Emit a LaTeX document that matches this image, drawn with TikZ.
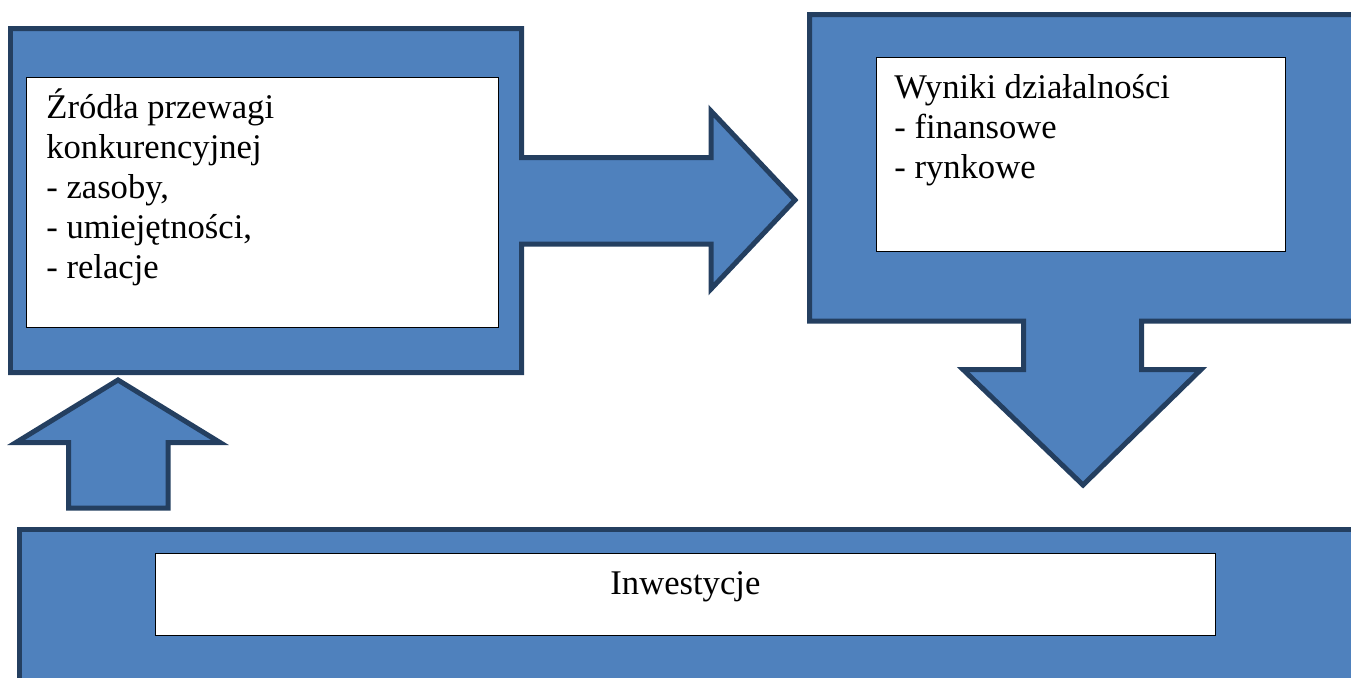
\documentclass[tikz,border=0pt]{standalone}
\usepackage{fontspec}
\setmainfont{Liberation Serif}
\usepackage{xcolor}
\definecolor{frameBlue}{RGB}{79,129,189}
\definecolor{frameEdge}{RGB}{36,63,96}

\begin{document}
\begin{tikzpicture}[x=0.02cm, y=-0.02cm,
    bluepart/.style={fill=frameBlue, draw=frameEdge, line width=0.1cm, line join=miter},
    whitebox/.style={draw=black, fill=white, line width=0.6pt, anchor=north west, inner sep=0pt},
    boxtext/.style={font=\fontsize{19.7}{22.76}\selectfont, inner sep=0pt, align=left}]
  \useasboundingbox (0,0) rectangle (1351,677);
  \clip (0,0) rectangle (1351,677);

  % Frames and block arrows
  \draw[bluepart] (10.5,28.5) -- (521.5,28.5) -- (521.5,157.5) -- (711,157.5) -- (711,111)
    -- (795,200) -- (711,289) -- (711,244) -- (521.5,244) -- (521.5,372.5) -- (10.5,372.5) -- cycle;
  \draw[bluepart] (809.5,14.5) -- (1400,14.5) -- (1400,321) -- (1141.5,321) -- (1141.5,369.5)
    -- (1201,369.5) -- (1083,485) -- (963,369.5) -- (1023.5,369.5) -- (1023.5,321) -- (809.5,321) -- cycle;
  \draw[bluepart] (118,380) -- (220,442.5) -- (168,442.5) -- (168,508) -- (68.5,508)
    -- (68.5,442.5) -- (16,442.5) -- cycle;
  \draw[bluepart] (19.5,529.5) rectangle (1400,720);

  % White boxes
  \node[whitebox, minimum width=9.45cm, minimum height=5cm] (src) at (26,77) {};
  \node[whitebox, minimum width=8.18cm, minimum height=3.88cm] (res) at (876,57) {};
  \node[whitebox, minimum width=21.2cm, minimum height=1.64cm] (inv) at (155,553) {};

  % Texts
  \node[boxtext, anchor=north west] (srctext) at ([shift={(20,1)}]src.north west)
    {\rule{0pt}{0.8cm}Źródła przewagi\\konkurencyjnej\\- zasoby,\\- umiejętności,\\- relacje};
  \node[boxtext, anchor=north west] (restext) at ([shift={(18,1)}]res.north west)
    {\rule{0pt}{0.8cm}Wyniki działalności\\- finansowe\\- rynkowe};
  \node[boxtext, anchor=base] (invtext) at (inv.center) {Inwestycje};
\end{tikzpicture}
\end{document}
